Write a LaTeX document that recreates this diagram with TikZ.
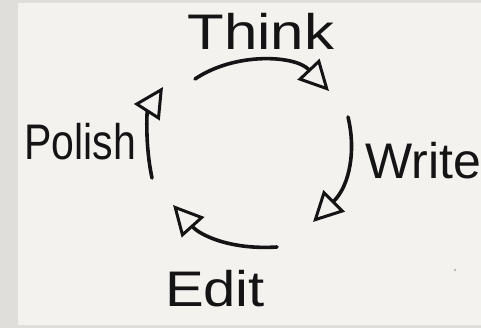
\documentclass[tikz,border=0pt]{standalone}
\usepackage{fontspec}
\setmainfont{Liberation Sans}
\usetikzlibrary{arrows.meta}
\definecolor{paper}{HTML}{F4F2EF}
\definecolor{strip}{HTML}{DFDEDB}
\definecolor{ink}{HTML}{141414}
\tikzset{
  word/.style={anchor=base, inner sep=0pt, text=ink, font=\fontsize{50}{50}\selectfont},
  cycarrow/.style={draw=ink, line width=3.6pt, line cap=round,
    -{Triangle[open, length=30pt, width=30pt, line width=3pt]}}
}
\begin{document}
\begin{tikzpicture}[x=1pt,y=-1pt]
\useasboundingbox (0,0) rectangle (481,328);
\fill[strip] (0,0) rectangle (481,328);
\fill[paper] (18,3) rectangle (481,325);
\node[word, xscale=1.2] (think) at (261,50) {Think};
\node[word, xscale=0.82] (polish) at (80,160) {Polish};
\node[word, anchor=base west] (write) at (365,179) {Write};
\node[word, xscale=1.16] (edit) at (215,306) {Edit};
\coordinate (t1) at (195,79); \coordinate (t2) at (329,91);
\coordinate (w1) at (348,117); \coordinate (w2) at (313,222);
\coordinate (e1) at (277,247); \coordinate (e2) at (173,205);
\coordinate (p1) at (152,178); \coordinate (p2) at (163,87);
\draw[cycarrow] (t1) .. controls (235,52) and (295,55) .. (t2);
\draw[cycarrow] (w1) .. controls (356,150) and (350,185) .. (w2);
\draw[cycarrow] (e1) .. controls (230,250) and (200,235) .. (e2);
\draw[cycarrow] (p1) .. controls (145,145) and (147,112) .. (p2);
\fill[gray!70] (455,270) circle (1.2);
\end{tikzpicture}
\end{document}
